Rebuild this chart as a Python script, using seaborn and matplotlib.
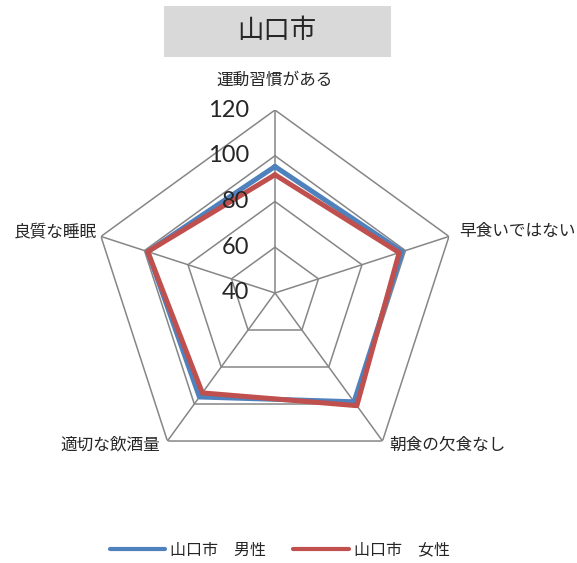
import numpy as np
import pandas as pd
import matplotlib
matplotlib.use("Agg")
import matplotlib.pyplot as plt
from matplotlib.lines import Line2D
from matplotlib.patches import Rectangle
import seaborn as sns

# data
categories = ["運動習慣がある", "早食いではない", "朝食の欠食なし", "適切な飲酒量", "良質な睡眠"]
male = [95.3, 98.5, 98.8, 96.2, 98.5]
female = [91.7, 97.1, 100.9, 94.0, 98.5]
series_names = ["山口市　男性", "山口市　女性"]
ring_levels = [40, 60, 80, 100, 120]
title = "山口市"

sns.set_style("white")
plt.rcParams["font.family"] = ["Noto Sans CJK JP", "DejaVu Sans"]

n = len(categories)
angles = np.arange(n) * 2 * np.pi / n
closed = np.append(angles, angles[0])

rows = []
for name, vals in zip(series_names, [male, female]):
    for a, v in zip(closed, vals + vals[:1]):
        rows.append({"theta": a, "value": v, "series": name})
df = pd.DataFrame(rows)

fig = plt.figure(figsize=(5.77, 5.63), dpi=100)
ax = fig.add_axes([0.1594, 0.1546, 0.6343, 0.650], projection="polar")
ax.set_theta_zero_location("N")
ax.set_theta_direction(-1)
ax.set_ylim(ring_levels[0], ring_levels[-1])
ax.grid(False)
ax.spines["polar"].set_visible(False)
ax.set_xticks([])
ax.set_yticks([])
ax.patch.set_alpha(0)

grid_color = "#868686"
for lvl in ring_levels[1:]:
    ax.plot(closed, [lvl] * (n + 1), color=grid_color, lw=1.1, zorder=1)
for a in angles:
    ax.plot([a, a], [ring_levels[0], ring_levels[-1]], color=grid_color, lw=1.1, zorder=1)

colors = {"山口市　男性": "#4F81BD", "山口市　女性": "#C0504D"}
sns.lineplot(data=df, x="theta", y="value", hue="series", palette=colors,
             sort=False, estimator=None, lw=3.6, ax=ax, legend=False, zorder=3)
ax.set_xlabel("")
ax.set_ylabel("")

# radial value labels left of the top spoke
for lvl in ring_levels:
    ax.annotate(str(lvl), (0, lvl), xytext=(-26, 0), textcoords="offset pixels",
                ha="right", va="center", fontsize=17, family=["Lato", "DejaVu Sans"],
                annotation_clip=False)

# category labels
offsets = [((0, 30), "center"), ((10, 5), "left"), ((7, -4), "left"),
           ((-7, -4), "right"), ((-4, 5), "right")]
for a, cat, (off, ha) in zip(angles, categories, offsets):
    ax.annotate(cat, (a, ring_levels[-1]), xytext=off, textcoords="offset pixels",
                ha=ha, va="center", fontsize=12, annotation_clip=False)

# title box
fig.patches.append(Rectangle((0.2842, 0.8988), 0.3934, 0.0906, transform=fig.transFigure,
                             facecolor="#D9D9D9", edgecolor="none", zorder=0))
fig.text(0.48, 0.9465, title, ha="center", va="center", fontsize=19)

handles = [Line2D([], [], color=colors[s], lw=3, solid_capstyle="round") for s in series_names]
fig.legend(handles, series_names, loc="center", bbox_to_anchor=(0.485, 1 - 550 / 563),
           ncol=2, frameon=False, fontsize=11.5, handlelength=3.5, handletextpad=0.3,
           columnspacing=1.7)

fig.savefig("out.png", dpi=100)
